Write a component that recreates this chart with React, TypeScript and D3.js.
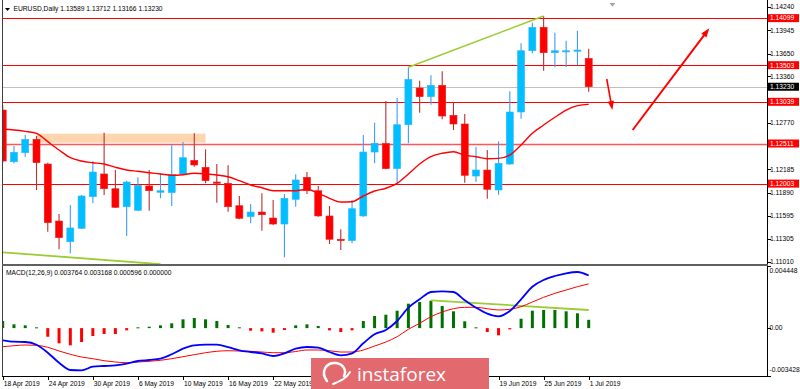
import React from "react";
import * as d3 from "d3";

const dates = [
  "18 Apr 2019","19 Apr 2019","22 Apr 2019","23 Apr 2019","24 Apr 2019","25 Apr 2019","26 Apr 2019","29 Apr 2019","30 Apr 2019",
  "1 May 2019","2 May 2019","3 May 2019","6 May 2019","7 May 2019","8 May 2019","9 May 2019","10 May 2019","13 May 2019","14 May 2019",
  "15 May 2019","16 May 2019","17 May 2019","20 May 2019","21 May 2019","22 May 2019","23 May 2019","24 May 2019","27 May 2019","28 May 2019",
  "29 May 2019","30 May 2019","31 May 2019","3 Jun 2019","4 Jun 2019","5 Jun 2019","6 Jun 2019","7 Jun 2019","10 Jun 2019","11 Jun 2019",
  "12 Jun 2019","13 Jun 2019","14 Jun 2019","17 Jun 2019","18 Jun 2019","19 Jun 2019","20 Jun 2019","21 Jun 2019","24 Jun 2019","25 Jun 2019",
  "26 Jun 2019","27 Jun 2019","28 Jun 2019","1 Jul 2019"
];

const open = [1.12935,1.12280,1.12394,1.12564,1.12251,1.11529,1.11267,1.11437,1.11837,1.12125,1.11938,1.11710,1.11665,1.11973,1.11893,1.11888,1.12125,1.12298,1.12209,1.12023,1.12007,1.11723,1.11584,1.11643,1.11567,1.11491,1.11804,1.12083,1.11913,1.11593,1.11298,1.11280,1.11593,1.12403,1.12511,1.12192,1.12749,1.13214,1.13104,1.13248,1.12868,1.12758,1.12099,1.12175,1.11922,1.12251,1.12910,1.13686,1.13983,1.13661,1.13679,1.13686,1.13589];
const high = [1.12999,1.12479,1.12619,1.12606,1.12268,1.11618,1.11732,1.11859,1.12289,1.12648,1.12175,1.12040,1.12083,1.12175,1.12134,1.12505,1.12530,1.12640,1.12437,1.12251,1.12235,1.11846,1.11745,1.11880,1.11795,1.11871,1.12121,1.12150,1.11973,1.11719,1.11424,1.11795,1.12619,1.12774,1.13049,1.13087,1.13476,1.13306,1.13375,1.13425,1.13028,1.12885,1.12470,1.12429,1.12539,1.13172,1.13780,1.14041,1.14126,1.13914,1.13813,1.13940,1.13712];
const low = [1.12264,1.12260,1.12344,1.11922,1.11394,1.11171,1.11120,1.11428,1.11754,1.11859,1.11694,1.11339,1.11656,1.11660,1.11817,1.11719,1.12108,1.12217,1.12007,1.11761,1.11647,1.11551,1.11500,1.11406,1.11479,1.11070,1.11710,1.11871,1.11584,1.11238,1.11162,1.11247,1.11584,1.12260,1.12184,1.12007,1.12514,1.12901,1.13002,1.12817,1.12682,1.12014,1.12023,1.11812,1.11862,1.12242,1.12825,1.13653,1.13433,1.13476,1.13476,1.13501,1.13166];
const close = [1.12289,1.12400,1.12564,1.12268,1.11508,1.11318,1.11441,1.11846,1.12150,1.11938,1.11703,1.12023,1.11981,1.11913,1.11913,1.12116,1.12331,1.12239,1.12040,1.12007,1.11710,1.11564,1.11643,1.11609,1.11491,1.11817,1.12049,1.11913,1.11593,1.11298,1.11280,1.11685,1.12403,1.12514,1.12192,1.12749,1.13324,1.13104,1.13248,1.12859,1.12758,1.12108,1.12175,1.11931,1.12260,1.12910,1.13686,1.13983,1.13661,1.13686,1.13686,1.13695,1.13230];

const ma = [1.12691,1.12682,1.12665,1.12640,1.12534,1.12429,1.12331,1.12289,1.12268,1.12251,1.12209,1.12175,1.12159,1.12141,1.12125,1.12108,1.12116,1.12134,1.12125,1.12112,1.12090,1.12040,1.11985,1.11951,1.11913,1.11913,1.11913,1.11931,1.11880,1.11817,1.11770,1.11774,1.11846,1.11909,1.11944,1.12007,1.12125,1.12251,1.12344,1.12387,1.12407,1.12362,1.12344,1.12318,1.12323,1.12365,1.12492,1.12640,1.12745,1.12843,1.12935,1.12990,1.13007];

const macdMain = [-0.000872,-0.000972,-0.000994,-0.001187,-0.001760,-0.002476,-0.002998,-0.003020,-0.002762,-0.002712,-0.002662,-0.002547,-0.002354,-0.002282,-0.002189,-0.001874,-0.001473,-0.001230,-0.001187,-0.001187,-0.001352,-0.001588,-0.001710,-0.001803,-0.001996,-0.001803,-0.001473,-0.001352,-0.001402,-0.001710,-0.001946,-0.001803,-0.001087,-0.000442,-0.000134,0.000510,0.001462,0.002064,0.002586,0.002637,0.002586,0.001992,0.001462,0.001033,0.000847,0.001226,0.002064,0.002966,0.003446,0.003732,0.003925,0.004018,0.003764];
const macdSignal = [-0.001330,-0.001259,-0.001208,-0.001230,-0.001373,-0.001638,-0.001874,-0.002068,-0.002189,-0.002333,-0.002426,-0.002476,-0.002426,-0.002375,-0.002304,-0.002189,-0.002046,-0.001903,-0.001760,-0.001659,-0.001617,-0.001638,-0.001659,-0.001710,-0.001760,-0.001760,-0.001674,-0.001566,-0.001566,-0.001617,-0.001710,-0.001710,-0.001566,-0.001280,-0.000994,-0.000614,-0.000084,0.000345,0.000818,0.001154,0.001391,0.001491,0.001491,0.001391,0.001298,0.001348,0.001534,0.001870,0.002207,0.002493,0.002730,0.002966,0.003168];
const macdHist = [0.000508,0.000272,0.000200,0.000057,-0.000616,-0.001088,-0.001232,-0.000995,-0.000566,-0.000422,-0.000422,-0.000158,0.000057,0.000100,0.000200,0.000344,0.000630,0.000723,0.000630,0.000508,0.000222,0.000057,-0.000186,-0.000229,-0.000329,-0.000136,0.000200,0.000272,0.000150,-0.000158,-0.000279,-0.000158,0.000508,0.000866,0.000960,0.001246,0.001747,0.001869,0.001962,0.001582,0.001203,0.000487,0.000057,-0.000279,-0.000516,-0.000086,0.000673,0.001246,0.001296,0.001296,0.001203,0.001060,0.000596];

// visible price-axis labels (those hidden under level boxes are omitted)
const priceTicks = [1.14240,1.13945,1.13650,1.13360,1.12770,1.12185,1.11890,1.11595,1.11305,1.11010];
const levelLines = [1.14099,1.13503,1.13039,1.12511,1.12003];
const lastPrice = 1.13230;
const macdTickValues = [0.004448, 0, -0.003428];
const macdTickLabels = ["0.004448", "0.00", "-0.003428"];
// date-axis labels every 4 bars; those under the watermark are not visible
const hiddenDateIdx = [28, 32, 36, 40];

// drawn objects: [index, value]
const zone = { i0: 3, i1: 18, v0: 1.12636, v1: 1.12521 };
const trendMain = [[36, 1.13476], [48, 1.14126]];
const trendLow = [[0, 1.11133], [14, 1.10982]];
const trendMacd = [[38, 0.001992], [52, 0.001298]];
const arrows = [
  { from: [53.6, 1.13328], to: [54.1, 1.12935], w: 1.6 },
  { from: [55.9, 1.12682], to: [62.7, 1.13970], w: 2 },
];

const FONT = "'Liberation Sans', Arial, sans-serif";

export default function App() {
  const plotL = 3, plotR = 767, mainT = 0, mainB = 264, macdT = 266, macdB = 376;
  const x = d3.scaleLinear().domain([0, 52]).range([2.7, 588.7]);
  const y = d3.scaleLinear().domain([1.1101, 1.1424]).range([262, 7]);
  const ym = d3.scaleLinear().domain([-0.003428, 0.004448]).range([macdB, macdT]);
  const idx = d3.range(open.length);

  const maLine = d3.line<number>().x((d, i) => x(i)).y((d) => y(d)).curve(d3.curveMonotoneX)(ma) || "";
  const mainLine = d3.line<number>().x((d, i) => x(i)).y((d) => ym(d)).curve(d3.curveMonotoneX)(macdMain) || "";
  const sigLine = d3.line<number>().x((d, i) => x(i)).y((d) => ym(d)).curve(d3.curveMonotoneX)(macdSignal) || "";

  const arrowHead = (x1: number, y1: number, x2: number, y2: number, len: number, half: number) => {
    const dx = x2 - x1, dy = y2 - y1;
    const L = Math.hypot(dx, dy);
    const ux = dx / L, uy = dy / L;
    const bx = x2 - ux * len, by = y2 - uy * len;
    return `M${x2},${y2} L${bx - uy * half},${by + ux * half} L${bx + uy * half},${by - ux * half} Z`;
  };

  const fs = 6.7;

  return (
    <svg width={800} height={389} style={{ position: "fixed", left: 0, top: 0, background: "#fff" }} fontFamily={FONT}>
      <defs>
        <clipPath id="clipMain"><rect x={plotL} y={mainT} width={plotR - plotL} height={mainB - mainT} /></clipPath>
        <clipPath id="clipMacd"><rect x={plotL} y={macdT} width={plotR - plotL} height={macdB - macdT} /></clipPath>
      </defs>
      <rect x={0} y={0} width={800} height={389} fill="#fff" />

      {/* main panel */}
      <g clipPath="url(#clipMain)">
        <rect x={x(zone.i0)} y={y(zone.v0)} width={x(zone.i1) - x(zone.i0)} height={y(zone.v1) - y(zone.v0)} fill="#fdd6b0" />
        {levelLines.map((v, k) => (
          <line key={k} x1={plotL} x2={plotR} y1={Math.round(y(v)) + 0.5} y2={Math.round(y(v)) + 0.5}
            stroke={v === 1.12511 ? "#f55" : "#ff0000"} strokeWidth={v === 1.12511 ? 1.4 : 1} />
        ))}
        <line x1={plotL} x2={plotR} y1={Math.round(y(lastPrice)) + 0.5} y2={Math.round(y(lastPrice)) + 0.5} stroke="#c0c0c0" strokeWidth={1} />
        {idx.map((i) => {
          const bull = close[i] >= open[i];
          const cx = x(i);
          const top = y(Math.max(open[i], close[i]));
          const bot = y(Math.min(open[i], close[i]));
          return (
            <g key={i}>
              <line x1={cx} x2={cx} y1={y(high[i])} y2={y(low[i])} stroke={bull ? "#3b9cff" : "#b83030"} strokeWidth={1.1} />
              <rect x={cx - 3.5} y={top} width={7} height={Math.max(1.2, bot - top)}
                fill={bull ? "#00bfff" : "#ff0000"} stroke={bull ? "#38b4ff" : "#e82020"} strokeWidth={0.6} />
            </g>
          );
        })}
        <path d={maLine} fill="none" stroke="#ff0000" strokeWidth={1.4} />
        <line x1={x(trendMain[0][0])} y1={y(trendMain[0][1])} x2={x(trendMain[1][0])} y2={y(trendMain[1][1])} stroke="#9acd32" strokeWidth={1.6} />
        <line x1={x(trendLow[0][0])} y1={y(trendLow[0][1])} x2={x(trendLow[1][0])} y2={y(trendLow[1][1])} stroke="#9acd32" strokeWidth={1.8} />
        {arrows.map((a, k) => {
          const x1 = x(a.from[0]), y1 = y(a.from[1]), x2 = x(a.to[0]), y2 = y(a.to[1]);
          const L = Math.hypot(x2 - x1, y2 - y1);
          const ex = x2 - (x2 - x1) / L * 6, ey = y2 - (y2 - y1) / L * 6;
          return (
            <g key={k}>
              <line x1={x1} y1={y1} x2={ex} y2={ey} stroke="#ff0000" strokeWidth={a.w} />
              <path d={arrowHead(x1, y1, x2, y2, 9, 3.2)} fill="#ff0000" />
            </g>
          );
        })}
        <path d={`M${x(54.1) - 3},3 L${x(54.1) + 3},3 L${x(54.1)},6.5 Z`} fill="#a0a0a0" />
      </g>

      {/* header */}
      <path d="M5,8 L10,8 L7.5,11 Z" fill="#000" />
      <text x={13.5} y={11} fontSize={fs} fill="#000">
        {`EURUSD,Daily  ${open[52].toFixed(5)} ${high[52].toFixed(5)} ${low[52].toFixed(5)} ${close[52].toFixed(5)}`}
      </text>

      {/* macd panel */}
      <g clipPath="url(#clipMacd)">
        {idx.map((i) => (
          <rect key={i} x={x(i) - 1.5} y={Math.min(ym(0), ym(macdHist[i]))} width={3}
            height={Math.max(1, Math.abs(ym(macdHist[i]) - ym(0)))} fill={macdHist[i] >= 0 ? "#007000" : "#ff0000"} />
        ))}
        <line x1={x(trendMacd[0][0])} y1={ym(trendMacd[0][1])} x2={x(trendMacd[1][0])} y2={ym(trendMacd[1][1])} stroke="#9acd32" strokeWidth={1.8} />
        <path d={sigLine} fill="none" stroke="#ff0000" strokeWidth={1} />
        <path d={mainLine} fill="none" stroke="#0000ff" strokeWidth={1.8} />
      </g>
      <text x={6} y={275} fontSize={fs} fill="#000">
        {`MACD(12,26,9) ${macdMain[52].toFixed(6)} ${macdSignal[52].toFixed(6)} ${macdHist[52].toFixed(6)} ${(0).toFixed(6)}`}
      </text>

      {/* frame */}
      <line x1={2.5} x2={2.5} y1={0} y2={macdB} stroke="#404040" strokeWidth={1} />
      <line x1={plotR + 0.5} x2={plotR + 0.5} y1={0} y2={macdB + 1} stroke="#000" strokeWidth={1} />
      <line x1={2} x2={plotR + 1} y1={mainB + 1} y2={mainB + 1} stroke="#606060" strokeWidth={2} />
      <line x1={2} x2={plotR + 1} y1={macdB + 0.5} y2={macdB + 0.5} stroke="#000" strokeWidth={1} />

      {/* right price axis */}
      {priceTicks.map((v, k) => (
        <g key={k}>
          <line x1={plotR + 1} x2={plotR + 4} y1={Math.round(y(v)) + 0.5} y2={Math.round(y(v)) + 0.5} stroke="#000" />
          <text x={770} y={y(v)} dy="0.35em" fontSize={fs} fill="#000">{v.toFixed(5)}</text>
        </g>
      ))}
      {levelLines.map((v, k) => (
        <g key={k}>
          <rect x={plotR + 1} y={y(v) - 4} width={31} height={8} fill="#ff0000" />
          <text x={770} y={y(v)} dy="0.35em" fontSize={fs} fill="#fff">{v.toFixed(5)}</text>
        </g>
      ))}
      <rect x={plotR + 1} y={y(lastPrice) - 4} width={31} height={8} fill="#000" />
      <text x={770} y={y(lastPrice)} dy="0.35em" fontSize={fs} fill="#fff">{lastPrice.toFixed(5)}</text>

      {/* macd axis */}
      {macdTickValues.map((v, k) => {
        const yy = Math.max(macdT + 5, Math.min(macdB - 6, ym(v)));
        return (
          <g key={k}>
            <line x1={plotR + 1} x2={plotR + 4} y1={Math.round(ym(v)) + 0.5} y2={Math.round(ym(v)) + 0.5} stroke="#000" />
            <text x={769.5} y={yy} dy="0.35em" fontSize={fs} fill="#000">{macdTickLabels[k]}</text>
          </g>
        );
      })}

      {/* time axis */}
      {idx.filter((i) => i % 4 === 0).map((i) => (
        <g key={i}>
          <line x1={Math.round(x(i)) + 0.5} x2={Math.round(x(i)) + 0.5} y1={macdB} y2={macdB + 4} stroke="#000" />
          {hiddenDateIdx.includes(i) ? null : <text x={x(i) + 1} y={386} fontSize={fs} fill="#000">{dates[i]}</text>}
        </g>
      ))}

      {/* watermark logo */}
      <rect x={311} y={358} width={178} height={31} fill="#e2696d" />
      <path d="M327,381 C320,372 326,362 336,363 C343,364 347,370 344,376" fill="none" stroke="#fff" strokeWidth={2.5} strokeLinecap="round" />
      <path d="M333,384 C340,381 346,379 350,372" fill="none" stroke="#fff" strokeWidth={2} strokeLinecap="round" />
      <text x={357} y={381} fontSize={19} fill="#fff" fontFamily="'Open Sans', 'Liberation Sans', sans-serif">instaforex</text>
    </svg>
  );
}
